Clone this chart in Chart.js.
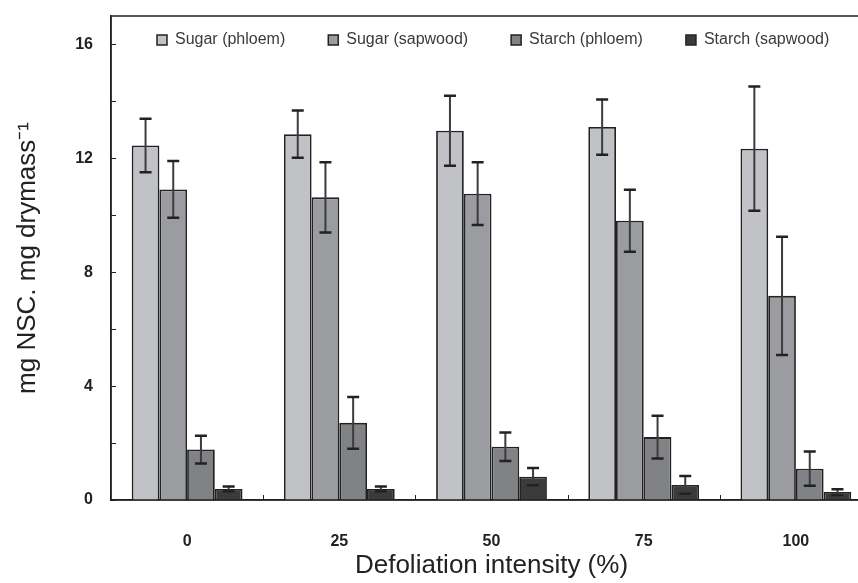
<!DOCTYPE html>
<html>
<head>
<meta charset="utf-8">
<script src="https://cdn.jsdelivr.net/npm/chart.js@4.4.1/dist/chart.umd.min.js"></script>
<style>
html, body { margin: 0; padding: 0; background: #fff; overflow: hidden; }
#wrap { width: 880px; height: 583px; }
</style>
</head>
<body>
<div id="wrap"><canvas id="chart" width="880" height="583"></canvas></div>
<script>
// defoliation groups
const categories = ['0', '25', '50', '75', '100'];

const sugarPhloem      = [12.45, 12.85, 12.97, 13.10, 12.34];
const sugarPhloemErr   = [0.94, 0.83, 1.23, 0.97, 2.18];
const sugarSapwood     = [10.91, 10.63, 10.76, 9.81, 7.17];
const sugarSapwoodErr  = [1.00, 1.23, 1.10, 1.09, 2.08];
const starchPhloem     = [1.77, 2.71, 1.87, 2.21, 1.10];
const starchPhloemErr  = [0.49, 0.91, 0.50, 0.75, 0.60];
const starchSapwood    = [0.39, 0.39, 0.82, 0.53, 0.28];
const starchSapwoodErr = [0.08, 0.08, 0.30, 0.31, 0.10];

const yTicksMajor = [0, 4, 8, 12, 16];

const INK = '#222222';

// little rectangle legend sitting inside the plot frame
const insideLegend = {
	id: 'insideLegend',
	afterDraw(chart)
	{
		const { ctx, chartArea } = chart;
		ctx.save();
		ctx.font = '16px "Liberation Sans", Arial, sans-serif';
		ctx.textBaseline = 'middle';
		let x = chartArea.left + 46;
		const y = chartArea.top + 24;
		chart.data.datasets.forEach(ds =>
		{
			ctx.fillStyle = ds.backgroundColor;
			ctx.fillRect(x, y - 5, 10, 10);
			ctx.strokeStyle = INK;
			ctx.lineWidth = 1.5;
			ctx.strokeRect(x, y - 5, 10, 10);
			ctx.fillStyle = '#3a3a3a';
			ctx.fillText(ds.label, x + 18, y);
			x += 18 + ctx.measureText(ds.label).width + 43;
		});
		ctx.restore();
	}
};

// frame + inward tick marks
const frameTicks = {
	id: 'frameTicks',
	afterDraw(chart)
	{
		const { ctx, chartArea, scales } = chart;
		ctx.save();
		ctx.strokeStyle = INK;
		ctx.lineWidth = 1.5;
		ctx.strokeRect(chartArea.left, chartArea.top, chartArea.right - chartArea.left, chartArea.bottom - chartArea.top);
		ctx.lineWidth = 1;
		ctx.beginPath();
		scales.y.ticks.forEach(t =>
		{
			if (t.value % 2 !== 0)
				return;
			const py = Math.round(scales.y.getPixelForValue(t.value)) + 0.5;
			ctx.moveTo(chartArea.left, py);
			ctx.lineTo(chartArea.left + 5, py);
		});
		for (let i = 0; i < categories.length - 1; i++)
		{
			const px = Math.round((scales.x.getPixelForValue(i) + scales.x.getPixelForValue(i + 1)) / 2) + 0.5;
			ctx.moveTo(px, chartArea.bottom);
			ctx.lineTo(px, chartArea.bottom - 5);
		}
		ctx.stroke();
		ctx.restore();
	}
};

// error bars from the err arrays
const errorBars = {
	id: 'errorBars',
	afterDatasetsDraw(chart)
	{
		const { ctx, scales } = chart;
		ctx.save();
		chart.data.datasets.forEach((ds, i) =>
		{
			const meta = chart.getDatasetMeta(i);
			meta.data.forEach((bar, j) =>
			{
				const v = ds.data[j];
				const e = ds.errors[j];
				const top = scales.y.getPixelForValue(v + e);
				const bot = scales.y.getPixelForValue(Math.max(0, v - e));
				ctx.strokeStyle = '#3c3c3c';
				ctx.lineWidth = 2;
				ctx.beginPath();
				ctx.moveTo(bar.x, top);
				ctx.lineTo(bar.x, bot);
				ctx.stroke();
				ctx.strokeStyle = INK;
				ctx.lineWidth = 2.5;
				ctx.beginPath();
				ctx.moveTo(bar.x - 6, top);
				ctx.lineTo(bar.x + 6, top);
				ctx.moveTo(bar.x - 6, bot);
				ctx.lineTo(bar.x + 6, bot);
				ctx.stroke();
			});
		});
		ctx.restore();
	}
};

function makeSet(label, data, errors, color)
{
	return {
		label: label,
		data: data,
		errors: errors,
		backgroundColor: color,
		borderColor: INK,
		borderWidth: 1.8,
		barPercentage: 1,
		categoryPercentage: 0.728
	};
}

const ctx = document.getElementById('chart').getContext('2d');
const chart = new Chart(ctx,
{
	type: 'bar',
	data:
	{
		labels: categories,
		datasets: [
			makeSet('Sugar (phloem)', sugarPhloem, sugarPhloemErr, '#c1c2c6'),
			makeSet('Sugar (sapwood)', sugarSapwood, sugarSapwoodErr, '#9b9c9f'),
			makeSet('Starch (phloem)', starchPhloem, starchPhloemErr, '#818286'),
			makeSet('Starch (sapwood)', starchSapwood, starchSapwoodErr, '#3b3b3b')
		]
	},
	options:
	{
		responsive: false,
		animation: false,
		devicePixelRatio: 1,
		layout: { padding: { left: 0, right: 8, top: 16, bottom: 0 } },
		plugins:
		{
			legend: { display: false },
			tooltip: { enabled: false }
		},
		scales:
		{
			x:
			{
				grid: { display: false, drawTicks: false },
				border: { display: true, color: INK, width: 1.5 },
				ticks:
				{
					color: INK,
					padding: 32,
					font: { family: '"Liberation Sans", Arial, sans-serif', size: 16, weight: 'bold' }
				},
				title:
				{
					display: true,
					text: 'Defoliation intensity (%)',
					color: INK,
					padding: { top: 0, bottom: 2 },
					font: { family: '"Liberation Sans", Arial, sans-serif', size: 26 }
				},
				afterFit(scale)
				{
					scale.height = 83;
					scale.paddingLeft = 0;
					scale.paddingRight = 0;
				}
			},
			y:
			{
				min: 0,
				max: 17,
				grid: { display: false, drawTicks: false },
				border: { display: true, color: INK, width: 1.5 },
				ticks:
				{
					stepSize: 2,
					color: INK,
					padding: 18,
					font: { family: '"Liberation Sans", Arial, sans-serif', size: 16, weight: 'bold' },
					callback: (v) => yTicksMajor.includes(v) ? v : ''
				},
				title:
				{
					display: true,
					text: 'mg NSC. mg drymass\u207B\u00B9',
					color: INK,
					padding: { top: 12, bottom: 0 },
					font: { family: '"Liberation Sans", Arial, sans-serif', size: 26 }
				},
				afterFit(scale)
				{
					scale.width = 111;
					scale.paddingTop = 0;
					scale.paddingBottom = 0;
				}
			}
		}
	},
	plugins: [errorBars, frameTicks, insideLegend]
});
</script>
</body>
</html>
